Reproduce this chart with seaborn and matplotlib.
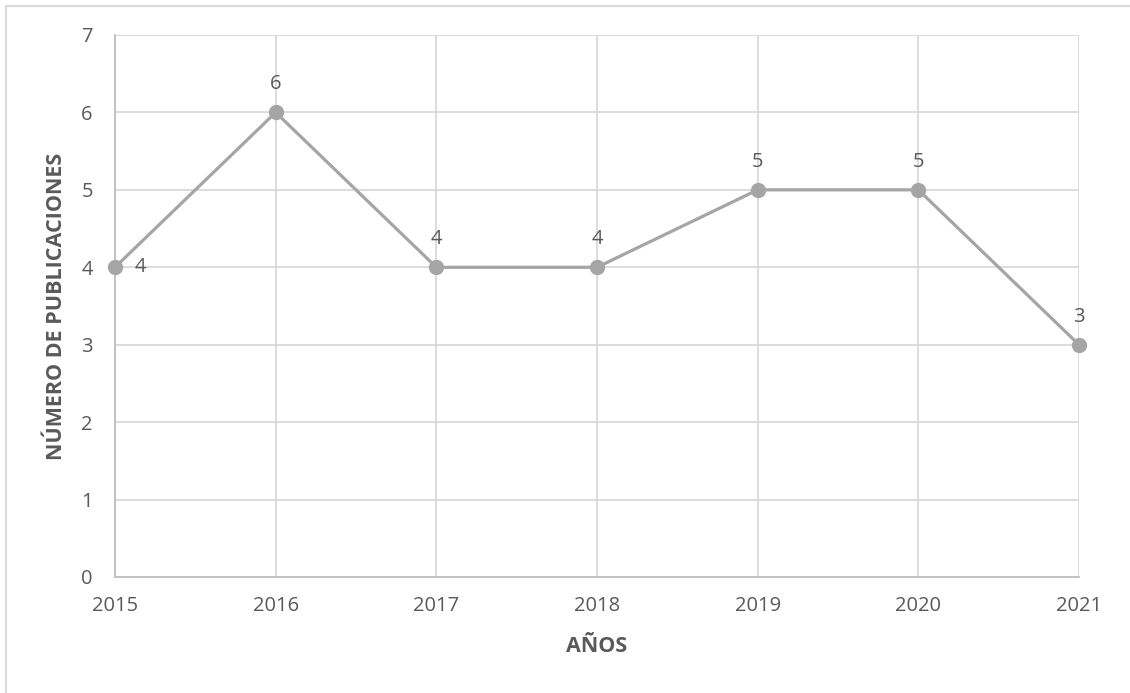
import matplotlib
matplotlib.use("Agg")
import matplotlib.pyplot as plt
import seaborn as sns
import pandas as pd
from matplotlib.lines import Line2D

# Data
years = [2015, 2016, 2017, 2018, 2019, 2020, 2021]
publicaciones = [4, 6, 4, 4, 5, 5, 3]
y_ticks = [0, 1, 2, 3, 4, 5, 6, 7]

df = pd.DataFrame({"year": years, "n": publicaciones})

sns.set_style("white")
plt.rcParams["font.family"] = ["Open Sans", "DejaVu Sans"]

text_col = "#595959"
line_col = "#a5a5a5"
grid_col = "#d9d9d9"

W, H = 1130, 693
fig = plt.figure(figsize=(W / 100, H / 100), dpi=100)
ax = fig.add_axes([115 / W, 1 - 577 / H, (1079 - 115) / W, (577 - 35) / H])

sns.lineplot(data=df, x="year", y="n", ax=ax, color=line_col, linewidth=2.3,
             marker="o", markersize=11, markeredgewidth=0, zorder=3, clip_on=False)

ax.set_xlim(years[0], years[-1])
ax.set_ylim(y_ticks[0], y_ticks[-1])
ax.set_xticks(years)
ax.set_yticks(y_ticks)
ax.grid(True, color=grid_col, linewidth=1.3)
ax.set_axisbelow(True)
for side in ["top", "right"]:
    ax.spines[side].set_visible(False)
for side in ["left", "bottom"]:
    ax.spines[side].set_color("#bfbfbf")
    ax.spines[side].set_linewidth(1.3)
ax.tick_params(axis="both", length=0, labelsize=14.5, colors=text_col)
ax.tick_params(axis="x", pad=14)
ax.tick_params(axis="y", pad=16)

# value labels
for i, (x, y) in enumerate(zip(years, publicaciones)):
    if i == 0:
        ax.annotate(str(y), (x, y), xytext=(14, 0), textcoords="offset points",
                    ha="left", va="center", fontsize=14.5, color=text_col)
    else:
        ax.annotate(str(y), (x, y), xytext=(0, 13), textcoords="offset points",
                    ha="center", va="bottom", fontsize=14.5, color=text_col)

ax.set_xlabel("")
ax.set_ylabel("")
fig.text(597 / W, 1 - 646 / H, "AÑOS", ha="center", va="center",
         fontsize=15.5, fontweight="bold", color=text_col)
fig.text(57 / W, 1 - 306 / H, "NÚMERO DE PUBLICACIONES", ha="center", va="center",
         rotation=90, fontsize=15.5, fontweight="bold", color=text_col)

# chart-area border (only top and left visible in the reference)
fig.add_artist(Line2D([6 / W, 1], [1 - 6 / H, 1 - 6 / H], transform=fig.transFigure,
                      color=grid_col, linewidth=1.5))
fig.add_artist(Line2D([6 / W, 6 / W], [0, 1 - 6 / H], transform=fig.transFigure,
                      color=grid_col, linewidth=1.5))

fig.savefig("out.png", dpi=100)
